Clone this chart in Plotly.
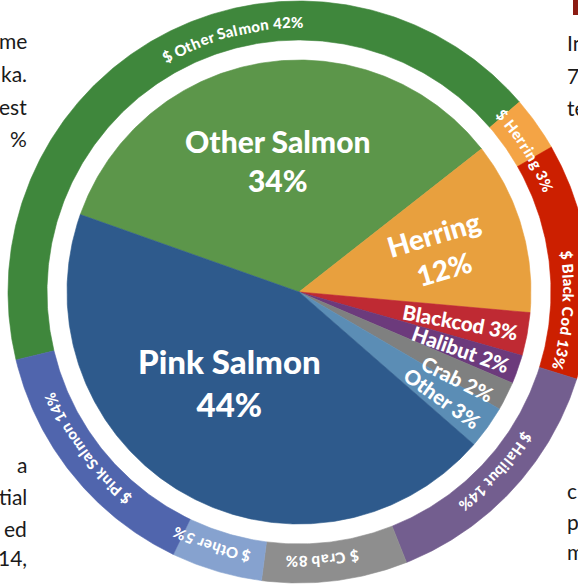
import numpy as np
import plotly.graph_objects as go

# ---- data -------------------------------------------------------------
# inner pie: share of the catch by volume
inner_labels = ["Other Salmon", "Herring", "Blackcod", "Halibut", "Crab", "Other", "Pink Salmon"]
inner_values = [34, 12, 3, 2, 2, 3, 44]

# outer ring: share of the catch by value
outer_labels = ["Other Salmon", "Herring", "Black Cod", "Halibut", "Crab", "Other", "Pink Salmon"]
outer_values = [42, 3, 13, 14, 8, 5, 14]

# ---- styling / geometry ----------------------------------------------
inner_colors = ["#5c964a", "#e8a03e", "#bf2a33", "#6c3a7c", "#7f8080", "#5b8db5", "#2e5a8c"]
outer_colors = ["#3f873c", "#f4a445", "#cc1f00", "#735e8f", "#8e8e8e", "#86a2cf", "#5065ad"]

W, H = 578, 586
CX, CY = 299, 292            # pie centre in page pixels
R_PIE, R_IN, R_OUT = 232, 252, 291
R_TXT = 270
INNER_START = 160.5          # degrees, slices run clockwise
OUTER_START = 193.5

# inner label placement: (radius, angle offset, rotate radially?, font size, line break?)
inner_label_style = [
    (133, 0, False, 30, True),
    (146, 0, True, 28, True),
    (164, 0, True, 20.5, False),
    (171, 0, True, 20.5, False),
    (181, -2, True, 20.5, False),
    (178, -1, True, 20.5, False),
    (114, -7, False, 33, True),
]
# centre angle of each curved outer label
outer_label_angle = [104.6, 32.0, -3.9, -42.4, -85.0, -109.0, -143.5]
OUTER_FS = 15
LABEL_WEIGHT = 900

# approximate advance widths (em) for the heavy label face
ADV = {" ": 0.22, "$": 0.58, "%": 0.82, "O": 0.78, "H": 0.77, "B": 0.67, "C": 0.69,
       "P": 0.63, "S": 0.53, "a": 0.54, "b": 0.60, "c": 0.49, "d": 0.60, "e": 0.56,
       "g": 0.55, "h": 0.60, "i": 0.28, "k": 0.57, "l": 0.28, "m": 0.88, "n": 0.60,
       "o": 0.60, "r": 0.41, "t": 0.40, "u": 0.60}
TRACK = 0.3


def px(x):
    return x - CX


def py(y):
    return CY - y


def arc(a0, a1, r):
    n = max(int(abs(a1 - a0) * 2) + 2, 3)
    t = np.radians(np.linspace(a0, a1, n))
    return r * np.cos(t), r * np.sin(t)


def spans(values, start):
    total = float(sum(values))
    out, a = [], start
    for v in values:
        b = a - v / total * 360.0
        out.append((a, b))
        a = b
    return out


fig = go.Figure()

# inner pie wedges
inner_spans = spans(inner_values, INNER_START)
for (a0, a1), lab, col in zip(inner_spans, inner_labels, inner_colors):
    ax, ay = arc(a0, a1, R_PIE)
    fig.add_trace(go.Scatter(
        x=np.concatenate([[0], ax, [0]]), y=np.concatenate([[0], ay, [0]]),
        fill="toself", fillcolor=col, mode="lines",
        line=dict(color=col, width=0.6), hoverinfo="skip", name=lab))

# outer ring segments
outer_spans = spans(outer_values, OUTER_START)
for (a0, a1), lab, col in zip(outer_spans, outer_labels, outer_colors):
    ox, oy = arc(a0, a1, R_OUT)
    ix, iy = arc(a1, a0, R_IN)
    fig.add_trace(go.Scatter(
        x=np.concatenate([ox, ix, ox[:1]]), y=np.concatenate([oy, iy, oy[:1]]),
        fill="toself", fillcolor=col, mode="lines",
        line=dict(color=col, width=0.6), hoverinfo="skip", name=lab))

annotations = []

# inner labels
for (a0, a1), lab, val, (r, off, radial, fs, brk) in zip(inner_spans, inner_labels,
                                                       inner_values, inner_label_style):
    mid = (a0 + a1) / 2
    t = np.radians(mid + off)
    text = f"{lab}<br>{val}%" if brk else f"{lab} {val}%"
    annotations.append(dict(
        x=r * np.cos(t), y=r * np.sin(t), xref="x", yref="y", text=text,
        showarrow=False, textangle=-mid if radial else 0,
        font=dict(family="Lato", size=fs, color="white", weight=LABEL_WEIGHT),
        xanchor="center", yanchor="middle", align="center"))

# curved outer labels, one glyph at a time, reading clockwise
for lab, val, centre in zip(outer_labels, outer_values, outer_label_angle):
    text = f"$ {lab} {val}%"
    widths = [ADV.get(c, 0.58) * OUTER_FS + TRACK for c in text]
    total = sum(widths) - TRACK
    s = -total / 2
    for ch, w in zip(text, widths):
        sc = s + (w - TRACK) / 2
        s += w
        if ch == " ":
            continue
        th = centre - np.degrees(sc / R_TXT)
        t = np.radians(th)
        ang = 90 - th
        ang = (ang + 180) % 360 - 180
        annotations.append(dict(
            x=R_TXT * np.cos(t), y=R_TXT * np.sin(t), xref="x", yref="y",
            text=ch, showarrow=False, textangle=ang,
            font=dict(family="Lato", size=OUTER_FS, color="white", weight=LABEL_WEIGHT),
            xanchor="center", yanchor="middle"))

# surrounding body-text fragments
body = dict(family="Lato", size=21, color="#1a1a1a")
left_lines = [("me", 40), ("ka.", 73), ("est", 106), ("%", 138),
              ("a", 464), ("tial", 496), ("ed", 528), ("14,", 557)]
right_lines = [("In", 42), ("7", 75), ("te", 107), ("c", 490), ("p", 521), ("m", 551)]
for txt, yy in left_lines:
    annotations.append(dict(x=px(29), y=py(yy), xref="x", yref="y", text=txt,
                            showarrow=False, xanchor="right", yanchor="middle", font=body))
for txt, yy in right_lines:
    annotations.append(dict(x=px(565), y=py(yy), xref="x", yref="y", text=txt,
                            showarrow=False, xanchor="left", yanchor="middle", font=body))

fig.update_layout(
    width=W, height=H, margin=dict(l=0, r=0, t=0, b=0),
    paper_bgcolor="white", plot_bgcolor="white", showlegend=False,
    xaxis=dict(range=[px(0), px(W)], visible=False, fixedrange=True),
    yaxis=dict(range=[py(H), py(0)], visible=False, fixedrange=True),
    annotations=annotations,
    shapes=[dict(type="rect", xref="x", yref="y", x0=px(573), x1=px(582),
                 y0=py(0), y1=py(15), fillcolor="#8c1c13", line=dict(width=0))],
)

fig.write_html("out.html")
